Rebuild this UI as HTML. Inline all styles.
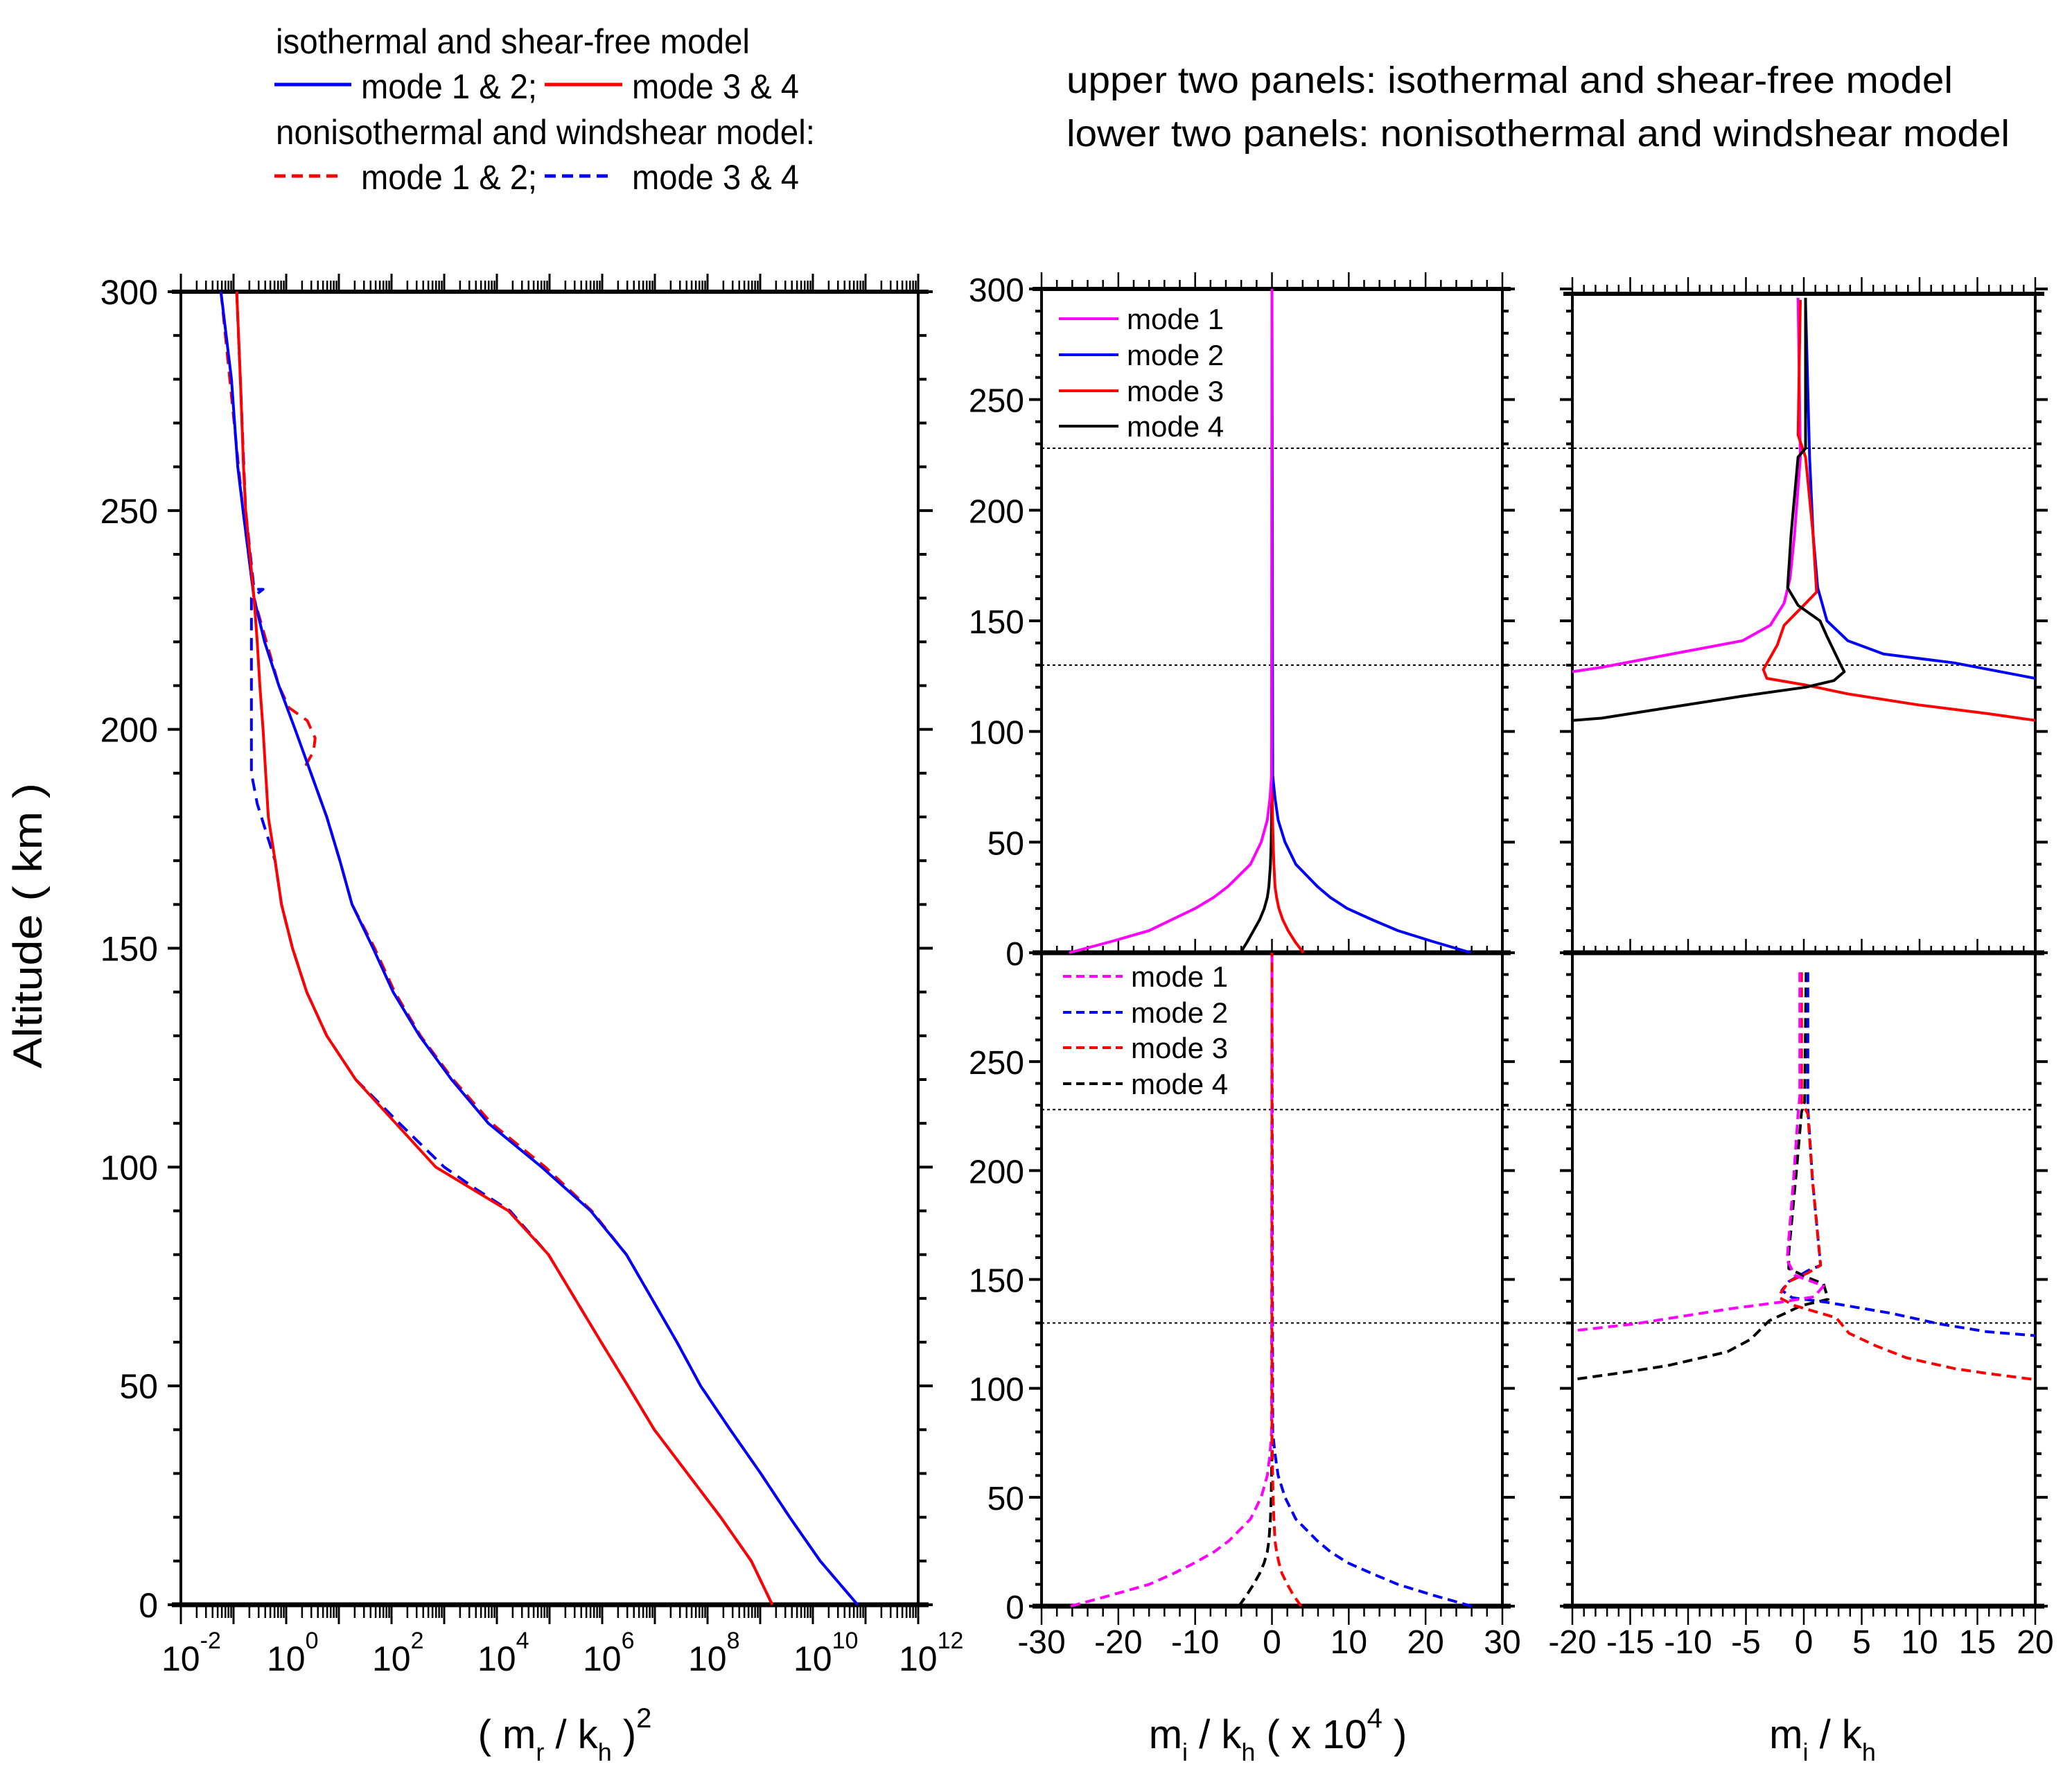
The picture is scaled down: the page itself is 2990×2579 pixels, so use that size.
<!DOCTYPE html>
<html><head><meta charset="utf-8"><style>
html,body{margin:0;padding:0;background:#fff;}
svg{display:block;font-family:"Liberation Sans",sans-serif;}
</style></head><body>
<svg id="fig" xmlns="http://www.w3.org/2000/svg" width="2990" height="2579" viewBox="0 0 2990 2579">
<defs>
<clipPath id="clipL"><rect x="261" y="419" width="1064" height="1899"/></clipPath>
<clipPath id="clipMT"><rect x="1503" y="415" width="665" height="962"/></clipPath>
<clipPath id="clipMB"><rect x="1503" y="1373" width="665" height="947"/></clipPath>
<clipPath id="clipRT"><rect x="2269" y="415" width="668" height="962"/></clipPath>
<clipPath id="clipRB"><rect x="2269" y="1373" width="668" height="947"/></clipPath>
</defs>
<g font-size="50" fill="#000">
<text x="398" y="77" textLength="684" lengthAdjust="spacingAndGlyphs">isothermal and shear-free model</text>
<line x1="396" y1="122" x2="507" y2="122" stroke="#0000ff" stroke-width="5"/>
<text x="521" y="142" textLength="254" lengthAdjust="spacingAndGlyphs">mode 1 &amp; 2;</text>
<line x1="786" y1="122" x2="898" y2="122" stroke="#ff0000" stroke-width="5"/>
<text x="912" y="142" textLength="241" lengthAdjust="spacingAndGlyphs">mode 3 &amp; 4</text>
<text x="398" y="208" textLength="778" lengthAdjust="spacingAndGlyphs">nonisothermal and windshear model:</text>
<line x1="396" y1="254" x2="493" y2="254" stroke="#ff0000" stroke-width="5" stroke-dasharray="16,9"/>
<text x="521" y="273" textLength="254" lengthAdjust="spacingAndGlyphs">mode 1 &amp; 2;</text>
<line x1="786" y1="254" x2="882" y2="254" stroke="#0000ff" stroke-width="5" stroke-dasharray="16,9"/>
<text x="912" y="273" textLength="241" lengthAdjust="spacingAndGlyphs">mode 3 &amp; 4</text>
</g>
<g font-size="54" fill="#000">
<text x="1539" y="134" textLength="1279" lengthAdjust="spacingAndGlyphs">upper two panels: isothermal and shear-free model</text>
<text x="1539" y="211" textLength="1361" lengthAdjust="spacingAndGlyphs">lower two panels: nonisothermal and windshear model</text>
</g>
<text transform="translate(60,1336) rotate(-90)" text-anchor="middle" font-size="58" textLength="412" lengthAdjust="spacingAndGlyphs">Altitude ( km )</text>
<text x="815" y="2523" text-anchor="middle" font-size="58">( m<tspan font-size="36" dy="18">r</tspan><tspan dy="-18"> / k</tspan><tspan font-size="36" dy="18">h</tspan><tspan dy="-18"> )</tspan><tspan font-size="40" dy="-30">2</tspan></text>
<text x="1844" y="2523" text-anchor="middle" font-size="58">m<tspan font-size="36" dy="18">i</tspan><tspan dy="-18"> / k</tspan><tspan font-size="36" dy="18">h</tspan><tspan dy="-18"> ( x 10</tspan><tspan font-size="40" dy="-30">4</tspan><tspan dy="30"> )</tspan></text>
<text x="2630" y="2523" text-anchor="middle" font-size="58">m<tspan font-size="36" dy="18">i</tspan><tspan dy="-18"> / k</tspan><tspan font-size="36" dy="18">h</tspan></text>
</svg>
<script>
// ---- Left panel data: log10((mr/kh)^2) vs altitude ----
const altL = [300,280,260,250,230,220,210,200,190,180,170,160,150,140,130,120,110,100,90,80,70,60,50,40,30,20,10,0];
const blueSolidL = [-1.24,-1.04,-0.92,-0.82,-0.61,-0.41,-0.14,0.17,0.47,0.77,1.02,1.25,1.65,2.03,2.53,3.14,3.84,4.85,5.78,6.46,6.94,7.42,7.87,8.43,9.01,9.56,10.14,10.85];
const redSolidL = [-0.94,-0.87,-0.81,-0.77,-0.61,-0.55,-0.50,-0.44,-0.39,-0.34,-0.21,-0.09,0.12,0.39,0.77,1.32,2.08,2.84,4.22,4.98,5.48,5.98,6.49,6.99,7.62,8.25,8.83,9.23];
const altRedDashL = [300,250,230,210,205,202,198,195,192,190,180,170,160,150,140,130,120,110,100,90,80,70,60,50,40,30,20,10,0];
const redDashL = [-1.24,-0.82,-0.61,-0.14,0.05,0.40,0.55,0.52,0.38,0.47,0.77,1.02,1.25,1.68,2.06,2.55,3.17,3.90,4.92,5.80,6.46,6.94,7.42,7.87,8.43,9.01,9.56,10.14,10.85];
const altBlueDashL = [300,250,232,232,230,210,190,183,170,160,150,140,130,120,110,100,95,90,80,70,60,50,40,30,20,10,0];
const blueDashL = [-0.94,-0.77,-0.61,-0.44,-0.66,-0.66,-0.66,-0.55,-0.21,-0.09,0.12,0.39,0.77,1.32,2.15,3.0,3.6,4.25,4.98,5.48,5.98,6.49,6.99,7.62,8.25,8.83,9.23];
const logTicksL = [-2,0,2,4,6,8,10,12];
const altTicksL = [0,50,100,150,200,250,300];

// ---- Middle panels: mi/kh (x1e4) vs altitude ----
const altM = [0,5,10,15,20,25,30,40,50,60,70,80,300];
const m1Top = [-26.4,-21,-16,-13,-10,-7.6,-5.7,-2.8,-1.4,-0.6,-0.25,-0.05,0];
const m2Top = [25.9,21,16.4,13,9.8,7.6,5.9,3.1,1.7,0.8,0.4,0.1,0];
const m3Top = [4.1,3.0,2.1,1.4,0.9,0.6,0.4,0.25,0.15,0.08,0.05,0,0];
const m4Top = [-4.1,-3.2,-2.4,-1.6,-1.0,-0.6,-0.4,-0.2,-0.1,-0.05,0,0,0];
const m1Bot = [-26.2,-21,-16,-12.8,-10,-7.5,-5.6,-2.8,-1.4,-0.6,-0.25,-0.05,0];
const m2Bot = [26.0,21,16.4,13,9.8,7.6,5.9,3.1,1.7,0.8,0.4,0.1,0];
const m3Bot = [3.8,2.8,2.0,1.3,0.9,0.6,0.4,0.25,0.15,0.08,0.05,0,0];
const m4Bot = [-4.3,-3.3,-2.4,-1.6,-1.0,-0.6,-0.4,-0.2,-0.1,-0.05,0,0,0];
const xTicksM = [-30,-20,-10,0,10,20,30];

// ---- Right panels: mi/kh vs altitude ----
const r1TopAlt = [296,224,189,169,158,148,141,135,129,127];
const r1TopVal = [-0.5,-0.3,-0.8,-1.2,-1.7,-2.9,-5.3,-11.4,-17.5,-20];
const r2TopAlt = [294,224,189,165,150,141,135,131,124];
const r2TopVal = [0.15,0.5,0.8,1.2,2,3.8,6.9,13,20];
const r3TopAlt = [295,234,224,189,163,156,148,139,128,124,121,117,112,108,105];
const r3TopVal = [-0.3,-0.5,0.15,0.8,1.1,-0.2,-1.7,-2.3,-3.5,-3.2,0.15,3.8,9.9,16,20];
const r4TopAlt = [296,228,224,189,165,157,150,143,130,127,123,120,116,111,106,105];
const r4TopVal = [0.15,0.15,-0.5,-1.1,-1.4,-0.5,1.4,2,3.2,3.5,2.6,0.15,-5.3,-11.4,-17.5,-20];
const r1BotAlt = [291,234,226,195,159,152,147,142,139.5,136.6,132,129.6,126.4];
const r1BotVal = [-0.35,-0.35,-0.5,-0.9,-1.45,-0.8,1.7,0.9,-2.1,-6.3,-11.8,-14.6,-20];
const r2BotAlt = [291,229,195,156.5,154,149,145,141.6,139.5,134.5,129.6,126,124.2];
const r2BotVal = [0.35,0.35,0.76,1.45,0.35,-1.3,-1.9,-1,2,7.5,11.7,15.8,20];
const r3BotAlt = [291,231.5,226,195,156.5,153,149,143.7,141.6,138,134.5,132.4,125.3,119.6,114,109,106.9,104];
const r3BotVal = [-0.2,-0.2,0.35,0.76,1.45,0.35,-1.3,-2,-2.1,-0.8,1.45,2.8,3.9,6.2,8.9,13.1,15.8,20];
const r4BotAlt = [291,231.5,227,202,162,155,150.8,148,140.9,138,131,122.5,116.8,110.4,107,104];
const r4BotVal = [0.2,0.07,-0.2,-0.6,-1.3,-1.3,0.35,1.7,2.1,-0.2,-3,-4.6,-6.6,-11.8,-16,-20];
const xTicksR = [-20,-15,-10,-5,0,5,10,15,20];
const guideAlts = [228,130];

const NS = 'http://www.w3.org/2000/svg';
const svg = document.getElementById('fig');
function mk(tag, attrs, name, parent) {
  const el = document.createElementNS(NS, tag);
  for (const k in attrs) el.setAttribute(k, attrs[k]);
  
  
  (parent || svg).appendChild(el);
  return el;
}
const lx = v => 261 + (v + 2) * 76;
const ly = a => 2316 - a * (2316 - 421) / 300;
const mx = v => 1503 + (v + 30) * 665 / 60;
const rx = v => 2269 + (v + 20) * 668 / 40;
const yT = a => 1375 - a * (1375 - 417) / 300;
const yB = a => 2318 - a * (2318 - 1375) / 300;

function curve(xs, alts, fx, fy, color, dash, clip, name, w) {
  let d = '';
  for (let i = 0; i < xs.length; i++) d += (i ? 'L' : 'M') + fx(xs[i]).toFixed(1) + ',' + fy(alts[i]).toFixed(1);
  const a = {d: d, fill: 'none', stroke: color, 'stroke-width': w || 4, 'stroke-linejoin': 'round', 'clip-path': 'url(#' + clip + ')'};
  if (dash) a['stroke-dasharray'] = dash;
  return mk('path', a, name);
}
function ln(x1, y1, x2, y2, w, name, extra) {
  const a = {x1: x1, y1: y1, x2: x2, y2: y2, stroke: '#000', 'stroke-width': w};
  if (extra) for (const k in extra) a[k] = extra[k];
  return mk('line', a, name);
}
function txt(x, y, s, size, anchor, name) {
  const t = mk('text', {x: x, y: y, 'font-size': size, 'text-anchor': anchor || 'middle'}, name);
  t.textContent = s;
  return t;
}

// ---------- LEFT PANEL ----------
mk('rect', {x: 261, y: 421, width: 1064, height: 1895, fill: 'none', stroke: '#000', 'stroke-width': 4}, 'left-panel-frame');
ln(248, 421, 1340, 421, 6, 'left-top-axis');
ln(248, 2316, 1340, 2316, 7, 'left-bottom-axis');
for (let d = -2; d <= 12; d++) {
  const xm = lx(d);
  ln(xm, 421, xm, 395, 3, 'left-top-major-tick');
  ln(xm, 2316, xm, 2344, 3, 'left-bottom-major-tick');
  if (d < 12) for (let k = 2; k <= 9; k++) {
    const xk = lx(d + Math.log10(k));
    ln(xk, 421, xk, 405, 2.5, 'left-top-minor-tick');
    ln(xk, 2316, xk, 2335, 2.5, 'left-bottom-minor-tick');
  }
}
for (let a = 0; a <= 300; a += 10) {
  const major = a % 50 === 0;
  const y = ly(a);
  ln(261, y, major ? 242 : 250, y, 4, 'left-y-tick');
  ln(1325, y, major ? 1346 : 1337, y, 4, 'left-y-tick-right');
}
altTicksL.forEach(a => { txt(228, ly(a) + 18, String(a), 50, 'end', 'left-y-tick-label'); });
logTicksL.forEach(e => {
  const t = txt(lx(e) - 28, 2411, '10', 50, 'start', 'left-x-tick-label');
  const s = document.createElementNS(NS, 'tspan');
  s.setAttribute('font-size', '34');
  s.setAttribute('dy', '-32');
  
  
  s.textContent = String(e);
  t.appendChild(s);
});
curve(redDashL, altRedDashL, lx, ly, '#ff0000', '18,11', 'clipL', 'left-mode12-nonisothermal');
curve(blueDashL, altBlueDashL, lx, ly, '#0000ff', '18,11', 'clipL', 'left-mode34-nonisothermal');
curve(blueSolidL, altL, lx, ly, '#0000ff', null, 'clipL', 'left-mode12-isothermal');
curve(redSolidL, altL, lx, ly, '#ff0000', null, 'clipL', 'left-mode34-isothermal');

// ---------- MIDDLE & RIGHT PANELS ----------
function panelFrame(x0, x1, yTop, yBot, name) {
  mk('rect', {x: x0, y: yTop, width: x1 - x0, height: yBot - yTop, fill: 'none', stroke: '#000', 'stroke-width': 4}, name);
}
panelFrame(1503, 2168, 417, 1375, 'middle-top-frame');
panelFrame(1503, 2168, 1375, 2318, 'middle-bottom-frame');
panelFrame(2269, 2937, 424, 1375, 'right-top-frame');
panelFrame(2269, 2937, 1375, 2318, 'right-bottom-frame');
ln(1490, 417, 2180, 417, 6, 'middle-top-axis');
ln(1490, 1375, 2180, 1375, 7, 'middle-shared-axis');
ln(1490, 2318, 2180, 2318, 7, 'middle-bottom-axis');
ln(2256, 424, 2950, 424, 6, 'right-top-axis');
ln(2256, 1375, 2950, 1375, 7, 'right-shared-axis');
ln(2256, 2318, 2950, 2318, 7, 'right-bottom-axis');

guideAlts.forEach(a => {
  ln(1503, yT(a), 2937, yT(a), 2, 'guide-line-upper', {'stroke-dasharray': '4,4'});
  ln(1503, yB(a), 2937, yB(a), 2, 'guide-line-lower', {'stroke-dasharray': '4,4'});
});

for (let v = -30; v <= 30; v += 2) {
  const x = mx(v), maj = v % 10 === 0;
  ln(x, 417, x, maj ? 393 : 404, 2.5, 'middle-top-x-tick');
  ln(x, 1375, x, maj ? 1355 : 1365, 2.5, 'middle-shared-x-tick');
  ln(x, 2318, x, maj ? 2345 : 2333, 2.5, 'middle-bottom-x-tick');
}
for (let v = -20; v <= 20; v += 1) {
  const x = rx(v), maj = v % 5 === 0;
  ln(x, 424, x, maj ? 400 : 411, 2.5, 'right-top-x-tick');
  ln(x, 1375, x, maj ? 1355 : 1365, 2.5, 'right-shared-x-tick');
  ln(x, 2318, x, maj ? 2345 : 2333, 2.5, 'right-bottom-x-tick');
}
for (let a = 0; a <= 300; a += 10) {
  const maj = a % 50 === 0;
  [[yT, 'top'], [yB, 'bottom']].forEach(([f, n]) => {
    const y = f(a);
    ln(1503, y, maj ? 1485 : 1494, y, 4, 'middle-' + n + '-y-tick');
    ln(2168, y, maj ? 2186 : 2177, y, 4, 'middle-' + n + '-y-tick-right');
    ln(2269, y, maj ? 2251 : 2260, y, 4, 'right-' + n + '-y-tick');
    ln(2937, y, maj ? 2955 : 2946, y, 4, 'right-' + n + '-y-tick-right');
  });
}
altTicksL.forEach(a => { txt(1478, yT(a) + 18, String(a), 48, 'end', 'middle-top-y-tick-label'); });
altTicksL.filter(a => a < 300).forEach(a => { txt(1478, yB(a) + 18, String(a), 48, 'end', 'middle-bottom-y-tick-label'); });
xTicksM.forEach(v => { txt(mx(v), 2386, String(v), 48, 'middle', 'middle-x-tick-label'); });
xTicksR.forEach(v => { txt(rx(v), 2386, String(v), 48, 'middle', 'right-x-tick-label'); });

curve(m4Top, altM, mx, yT, '#000', null, 'clipMT', 'middle-top-mode4');
curve(m3Top, altM, mx, yT, '#ff0000', null, 'clipMT', 'middle-top-mode3');
curve(m2Top, altM, mx, yT, '#0000ff', null, 'clipMT', 'middle-top-mode2');
curve(m1Top, altM, mx, yT, '#ff00ff', null, 'clipMT', 'middle-top-mode1');
curve(m4Bot, altM, mx, yB, '#000', '14,8', 'clipMB', 'middle-bottom-mode4');
curve(m2Bot, altM, mx, yB, '#0000ff', '14,8', 'clipMB', 'middle-bottom-mode2');
curve(m1Bot, altM, mx, yB, '#ff00ff', '14,8', 'clipMB', 'middle-bottom-mode1');
curve(m3Bot, altM, mx, yB, '#ff0000', '14,8', 'clipMB', 'middle-bottom-mode3');

curve(r1TopVal, r1TopAlt, rx, yT, '#ff00ff', null, 'clipRT', 'right-top-mode1');
curve(r2TopVal, r2TopAlt, rx, yT, '#0000ff', null, 'clipRT', 'right-top-mode2');
curve(r3TopVal, r3TopAlt, rx, yT, '#ff0000', null, 'clipRT', 'right-top-mode3');
curve(r4TopVal, r4TopAlt, rx, yT, '#000', null, 'clipRT', 'right-top-mode4');
curve(r4BotVal, r4BotAlt, rx, yB, '#000', '14,8', 'clipRB', 'right-bottom-mode4');
curve(r2BotVal, r2BotAlt, rx, yB, '#0000ff', '14,8', 'clipRB', 'right-bottom-mode2');
curve(r3BotVal, r3BotAlt, rx, yB, '#ff0000', '14,8', 'clipRB', 'right-bottom-mode3');
curve(r1BotVal, r1BotAlt, rx, yB, '#ff00ff', '14,8', 'clipRB', 'right-bottom-mode1');

const legColors = ['#ff00ff', '#0000ff', '#ff0000', '#000'];
const legLabels = ['mode 1', 'mode 2', 'mode 3', 'mode 4'];
const legYTop = [460, 512, 564, 615];
const legYBot = [1409, 1461, 1512, 1564];
legLabels.forEach((lab, i) => {
  ln(1528, legYTop[i], 1614, legYTop[i], 4, 'middle-top-legend-line', {stroke: legColors[i]});
  txt(1626, legYTop[i] + 15, lab, 42, 'start', 'middle-top-legend-label');
  ln(1534, legYBot[i], 1620, legYBot[i], 4, 'middle-bottom-legend-line', {stroke: legColors[i], 'stroke-dasharray': '12,7'});
  txt(1632, legYBot[i] + 15, lab, 42, 'start', 'middle-bottom-legend-label');
});
</script>
</body></html>
